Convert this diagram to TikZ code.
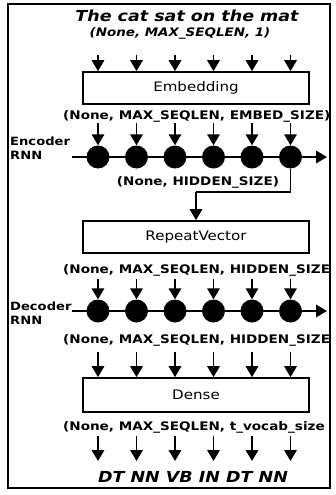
\documentclass[tikz,border=0pt]{standalone}
\usepackage{fontspec}
\usetikzlibrary{arrows.meta}
\newfontfamily\djs[FakeStretch=1.15]{DejaVu Sans}
\begin{document}
\begin{tikzpicture}[x=1pt,y=-1pt,
  font=\djs,
  arr/.style={line width=1.8pt,-{Triangle[width=12.5pt,length=11pt]}},
  wire/.style={line width=1.8pt},
  layerbox/.style={draw,line width=1.7pt,minimum width=226pt,minimum height=32pt,inner sep=0pt,font=\djs\fontsize{13.1}{15}\selectfont},
  dimlabel/.style={font=\djs\bfseries\fontsize{11.8}{13}\selectfont,inner sep=0pt},
  seqtext/.style={font=\djs\bfseries\itshape\fontsize{15.2}{17}\selectfont,inner sep=0pt},
  side/.style={font=\djs\bfseries\fontsize{11.4}{13}\selectfont,inner sep=0pt,anchor=west},
  cell/.style={circle,fill=black,minimum size=23pt,inner sep=0pt}]
\useasboundingbox (0,0) rectangle (336,495);
\fill[white] (0,0) rectangle (336,495);

% input sentence and its shape
\node[seqtext] (title) at (187,16) {The cat sat on the mat};
\node[dimlabel,font=\djs\bfseries\itshape\fontsize{11.7}{13}\selectfont] (inshape) at (180,33) {(None, MAX\_SEQLEN, 1)};

% embedding layer
\node[layerbox] (emb) at (196,88) {Embedding};
\foreach \i in {1,...,6}{
  \coordinate (in\i) at ({59.5+38.5*\i},55);
  \draw[arr] (in\i) -- (in\i |- emb.north);
}
\node[dimlabel,anchor=west] (embshape) at (63,116) {(None, MAX\_SEQLEN, EMBED\_SIZE)};

% encoder RNN
\node[side] (enclab1) at (10,141) {Encoder};
\node[side] (enclab2) at (10,155) {RNN};
\coordinate (encL) at (72,157);
\coordinate (encR) at (327,157);
\draw[arr] (encL) -- (encR);
\foreach \i in {1,...,6}{
  \node[cell] (e\i) at ({59.5+38.5*\i},157) {};
  \coordinate (ea\i) at ({59.5+38.5*\i},123);
  \draw[arr] (ea\i) -- (e\i);
}
\node[dimlabel] (hidshape) at (198,182) {(None, HIDDEN\_SIZE)};

% repeat vector
\node[layerbox] (rep) at (196,237) {RepeatVector};
\coordinate (bend1) at (290.5,192);
\coordinate (bend2) at (196,192);
\draw[wire] (e6) -- (bend1) -- (bend2);
\draw[arr] (bend2) -- (rep.north);
\node[dimlabel,anchor=west] (repshape) at (63,270) {(None, MAX\_SEQLEN, HIDDEN\_SIZE};

% decoder RNN
\node[side] (declab1) at (10,306) {Decoder};
\node[side] (declab2) at (10,320) {RNN};
\coordinate (decL) at (72,311);
\coordinate (decR) at (327,311);
\draw[arr] (decL) -- (decR);
\foreach \i in {1,...,6}{
  \node[cell] (d\i) at ({59.5+38.5*\i},311) {};
  \coordinate (da\i) at ({59.5+38.5*\i},279);
  \draw[arr] (da\i) -- (d\i);
}
\node[dimlabel,anchor=west] (decshape) at (63,340) {(None, MAX\_SEQLEN, HIDDEN\_SIZE};

% dense layer
\node[layerbox,minimum height=34pt] (dense) at (196,395) {Dense};
\foreach \i in {1,...,6}{
  \coordinate (dn\i) at ({59.5+38.5*\i},352);
  \draw[arr] (dn\i) -- (dn\i |- dense.north);
}
\node[dimlabel,anchor=west] (outshape) at (63,427) {(None, MAX\_SEQLEN, t\_vocab\_size};

% output tags
\foreach \i in {1,...,6}{
  \coordinate (out\i) at ({59.5+38.5*\i},436);
  \coordinate (tag\i) at ({59.5+38.5*\i},461);
  \draw[arr] (out\i) -- (tag\i);
}
\node[seqtext] (tags) at (193,477) {DT NN VB IN DT NN};

% outer frame
\draw[line width=2pt] (7.5,4.5) rectangle (329.5,488);
\end{tikzpicture}
\end{document}
